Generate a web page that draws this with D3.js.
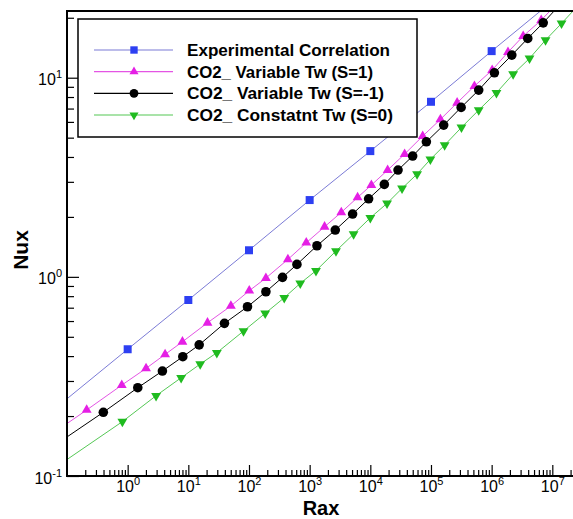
<!DOCTYPE html>
<html><head><meta charset="utf-8">
<script src="https://cdn.jsdelivr.net/npm/d3@7"></script>
<style>body{margin:0;background:#fff} svg{display:block;font-family:"Liberation Sans",Arial,sans-serif}</style>
</head><body>
<svg id="chart" width="573" height="519"></svg>
<script>
// ---- data ----
const seriesNames = ["Experimental Correlation", "CO2_ Variable Tw (S=1)", "CO2_ Variable Tw (S=-1)", "CO2_ Constatnt Tw (S=0)"];

const expRa = [0.08, 1, 10, 100, 1e3, 1e4, 1e5, 1e6, 1e7];
const expNu = [0.231, 0.433, 0.765, 1.36, 2.43, 4.28, 7.57, 13.6, 24.2];

const magRa = [0.08, 0.211, 0.80, 2.01, 4.14, 7.99, 20.7, 50.3, 101, 190, 438, 879, 1760, 3320, 6170, 10400, 19300, 36800, 73000, 1.43e5, 2.70e5, 5.20e5, 1.02e6, 1.86e6, 3.31e6, 6.56e6, 1.22e7];
const magNu = [0.175, 0.2145, 0.286, 0.347, 0.408, 0.472, 0.588, 0.714, 0.852, 0.986, 1.224, 1.483, 1.784, 2.108, 2.506, 2.889, 3.437, 4.136, 5.091, 6.176, 7.482, 9.076, 10.92, 13.44, 16.18, 19.46, 23.7];

const blkRa = [0.08, 0.397, 1.468, 3.737, 8.11, 15.1, 39.4, 94.5, 190, 357, 617, 1320, 2645, 5105, 9376, 17020, 28640, 49890, 83950, 1.62e5, 3.14e5, 6.12e5, 1.11e6, 2.15e6, 3.94e6, 7.08e6, 1.27e7];
const blkNu = [0.150, 0.2089, 0.2775, 0.3366, 0.3972, 0.4556, 0.5842, 0.7078, 0.8418, 0.9942, 1.155, 1.433, 1.718, 2.067, 2.466, 2.913, 3.437, 4.041, 4.766, 5.781, 7.095, 8.666, 10.58, 12.99, 15.75, 18.86, 22.88];

const grnRa = [0.08, 0.818, 2.94, 7.61, 15.7, 29.5, 81.2, 185, 381, 700, 1271, 2716, 5302, 10000, 18870, 33350, 58970, 97730, 1.68e5, 3.18e5, 6.12e5, 1.20e6, 2.26e6, 4.21e6, 7.73e6, 1.42e7, 2.7e7];
const grnNu = [0.1155, 0.1875, 0.2530, 0.3114, 0.3649, 0.4159, 0.5343, 0.6558, 0.7855, 0.9278, 1.073, 1.348, 1.640, 1.980, 2.339, 2.782, 3.282, 3.890, 4.587, 5.630, 6.877, 8.40, 10.42, 12.50, 15.45, 18.74, 23.15];

const xMajorExp = [0, 1, 2, 3, 4, 5, 6, 7];
const yMajorExp = [-1, 0, 1];

// ---- layout ----
const svg = d3.select("#chart");
const L = 67, R = 575, T = 11, B = 476;
const x = d3.scaleLog().domain([0.1, Math.pow(10, 7.374)]).range([L, R]);
const y = d3.scaleLog().domain([0.1, Math.pow(10, 1.335)]).range([B, T]);

svg.append("defs").append("clipPath").attr("id", "clip")
  .append("rect").attr("x", L).attr("y", T).attr("width", R - L).attr("height", B - T);

// minor tick values
const xMinor = [];
for (let e = -1; e <= 7; e++) for (let m = 2; m <= 9; m++) { const v = m * Math.pow(10, e); if (v < x.domain()[1]) xMinor.push(v); }
const yMinor = [];
for (let e = -1; e <= 1; e++) for (let m = 2; m <= 9; m++) { const v = m * Math.pow(10, e); if (v < y.domain()[1]) yMinor.push(v); }

const FONT = '"Liberation Sans",Arial,sans-serif';

// x axis ticks (inward)
const gx = svg.append("g").attr("transform", `translate(0,${B})`);
gx.call(d3.axisBottom(x).tickValues(xMinor).tickSize(-6).tickSizeOuter(0).tickFormat(""));
gx.select(".domain").remove();
const gx2 = svg.append("g").attr("transform", `translate(0,${B})`);
gx2.call(d3.axisBottom(x).tickValues(xMajorExp.map(e => Math.pow(10, e))).tickSize(-11).tickSizeOuter(0).tickFormat(""));
gx2.select(".domain").remove();
gx2.selectAll(".tick text").remove();
gx2.selectAll(".tick").each(function(d, i) {
  const t = d3.select(this).append("text").attr("y", 16).attr("text-anchor", "middle")
    .attr("fill", "#000").attr("font-size", 16).attr("font-family", FONT);
  t.append("tspan").text("10");
  t.append("tspan").attr("dy", -7).attr("font-size", 11).text(xMajorExp[i]);
});

// y axis ticks (inward)
const gy = svg.append("g").attr("transform", `translate(${L},0)`);
gy.call(d3.axisLeft(y).tickValues(yMinor).tickSize(-7).tickSizeOuter(0).tickFormat(""));
gy.select(".domain").remove();
const gy2 = svg.append("g").attr("transform", `translate(${L},0)`);
gy2.call(d3.axisLeft(y).tickValues(yMajorExp.map(e => Math.pow(10, e))).tickSize(-12).tickSizeOuter(0).tickFormat(""));
gy2.select(".domain").remove();
gy2.selectAll(".tick text").remove();
gy2.selectAll(".tick").each(function(d, i) {
  const t = d3.select(this).append("text").attr("x", -5).attr("y", 7).attr("text-anchor", "end")
    .attr("fill", "#000").attr("font-size", 16).attr("font-family", FONT);
  t.append("tspan").text("10");
  t.append("tspan").attr("dy", -7).attr("font-size", 11).text(yMajorExp[i]);
});
svg.selectAll(".tick line").attr("stroke", "#000").attr("stroke-width", 1.2);

// ---- series ----
const series = [
  { name: seriesNames[0], ra: expRa, nu: expNu, line: "#7b7bd6", fill: "#2d3ff2", sym: d3.symbolSquare, size: 64, rot: 0 },
  { name: seriesNames[1], ra: magRa, nu: magNu, line: "#e455e4", fill: "#e51fe5", sym: d3.symbolTriangle, size: 42, rot: 0 },
  { name: seriesNames[2], ra: blkRa, nu: blkNu, line: "#000000", fill: "#000000", sym: d3.symbolCircle, size: 72, rot: 0 },
  { name: seriesNames[3], ra: grnRa, nu: grnNu, line: "#55c855", fill: "#1fbb1f", sym: d3.symbolTriangle, size: 42, rot: 180 }
];

const plot = svg.append("g").attr("clip-path", "url(#clip)");
const lineGen = d3.line().x(d => x(d[0])).y(d => y(d[1]));
series.forEach(s => {
  const pts = s.ra.map((r, i) => [r, s.nu[i]]);
  plot.append("path").datum(pts).attr("d", lineGen).attr("fill", "none")
    .attr("stroke", s.line).attr("stroke-width", 1);
  plot.selectAll(null).data(pts).enter().append("path")
    .attr("d", d3.symbol().type(s.sym).size(s.size))
    .attr("transform", d => `translate(${x(d[0])},${y(d[1])}) rotate(${s.rot})`)
    .attr("fill", s.fill);
});

// frame
svg.append("rect").attr("x", L).attr("y", T).attr("width", R - L).attr("height", B - T)
  .attr("fill", "none").attr("stroke", "#000").attr("stroke-width", 2);

// ---- legend ----
const lg = svg.append("g");
lg.append("rect").attr("x", 78).attr("y", 19).attr("width", 339).attr("height", 118)
  .attr("fill", "#fff").attr("stroke", "#000").attr("stroke-width", 1.5);
const rowY = [50, 71.7, 93.3, 115];
const textLen = [203, 186, 197, 206];
series.forEach((s, i) => {
  const yy = rowY[i];
  lg.append("line").attr("x1", 94).attr("x2", 173).attr("y1", yy).attr("y2", yy)
    .attr("stroke", s.line).attr("stroke-width", 1.2);
  lg.append("path").attr("d", d3.symbol().type(s.sym).size(s.size * 0.85))
    .attr("transform", `translate(134,${yy}) rotate(${s.rot})`).attr("fill", s.fill);
  lg.append("text").attr("x", 187).attr("y", yy + 6).attr("font-size", 16).attr("font-weight", "bold")
    .attr("textLength", textLen[i]).attr("lengthAdjust", "spacingAndGlyphs")
    .attr("fill", "#000").text(s.name);
});

// ---- axis titles ----
svg.append("text").attr("x", 321).attr("y", 514.5).attr("text-anchor", "middle")
  .attr("font-size", 20).attr("font-weight", "bold").text("Rax");
svg.append("text").attr("transform", "translate(28,250) rotate(-90)").attr("text-anchor", "middle")
  .attr("font-size", 21).attr("font-weight", "bold").text("Nux");
</script>
</body></html>
